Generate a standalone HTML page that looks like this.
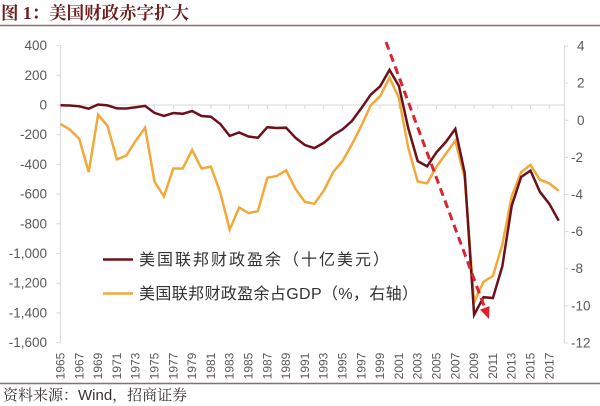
<!DOCTYPE html>
<html><head><meta charset="utf-8">
<style>
html,body{margin:0;padding:0;background:#fff;}
svg{display:block;}
</style></head>
<body>
<svg width="600" height="406" viewBox="0 0 600 406" xmlns="http://www.w3.org/2000/svg">
<rect width="600" height="406" fill="#fff"/>
<!-- title -->
<text x="1" y="19" font-family="'Liberation Serif','Noto Serif CJK SC',serif" font-weight="bold" font-size="17.5" fill="#6e1c1c">图 1：美国财政赤字扩大</text>
<line x1="0" y1="25.5" x2="600" y2="25.5" stroke="#8e6d66" stroke-width="1.5"/>

<!-- axes -->
<g stroke="#d9d9d9" stroke-width="1" fill="none">
<line x1="60.5" y1="45.6" x2="60.5" y2="342.6"/>
<line x1="564.5" y1="46" x2="564.5" y2="343"/>
<line x1="60.5" y1="105" x2="564.5" y2="105"/>
<!-- left ticks -->
<path d="M56.5 45.6H60.5M56.5 75.3H60.5M56.5 105H60.5M56.5 134.7H60.5M56.5 164.4H60.5M56.5 194.1H60.5M56.5 223.8H60.5M56.5 253.5H60.5M56.5 283.2H60.5M56.5 312.9H60.5M56.5 342.6H60.5"/>
<!-- right ticks -->
<path d="M564.5 46H568.5M564.5 83.1H568.5M564.5 120.3H568.5M564.5 157.4H568.5M564.5 194.5H568.5M564.5 231.6H568.5M564.5 268.7H568.5M564.5 305.9H568.5M564.5 343H568.5"/>
<!-- x ticks -->
<path d="M60.5 105V109M79.3 105V109M98.1 105V109M116.9 105V109M135.7 105V109M154.5 105V109M173.3 105V109M192.1 105V109M210.9 105V109M229.7 105V109M248.5 105V109M267.3 105V109M286.1 105V109M304.9 105V109M323.7 105V109M342.5 105V109M361.3 105V109M380.1 105V109M398.9 105V109M417.7 105V109M436.5 105V109M455.3 105V109M474.1 105V109M492.9 105V109M511.7 105V109M530.5 105V109M549.3 105V109"/>
</g>

<!-- left labels -->
<g font-family="'Liberation Sans',sans-serif" font-size="13.5" fill="#595959" text-anchor="end" dominant-baseline="central">
<text x="47" y="45.6">400</text>
<text x="47" y="75.3">200</text>
<text x="47" y="105">0</text>
<text x="47" y="134.7">-200</text>
<text x="47" y="164.4">-400</text>
<text x="47" y="194.1">-600</text>
<text x="47" y="223.8">-800</text>
<text x="47" y="253.5">-1,000</text>
<text x="47" y="283.2">-1,200</text>
<text x="47" y="312.9">-1,400</text>
<text x="47" y="342.6">-1,600</text>
</g>
<!-- right labels -->
<g font-family="'Liberation Sans',sans-serif" font-size="13.5" fill="#595959" dominant-baseline="central">
<text x="577" y="46">4</text>
<text x="577" y="83.1">2</text>
<text x="577" y="120.3">0</text>
<text x="571" y="157.4">-2</text>
<text x="571" y="194.5">-4</text>
<text x="571" y="231.6">-6</text>
<text x="571" y="268.7">-8</text>
<text x="571" y="305.9">-10</text>
<text x="571" y="343">-12</text>
</g>
<!-- year labels -->
<g font-family="'Liberation Sans',sans-serif" font-size="12" fill="#595959" text-anchor="middle" dominant-baseline="central">
<text transform="translate(60.5,366) rotate(-90)">1965</text>
<text transform="translate(79.3,366) rotate(-90)">1967</text>
<text transform="translate(98.1,366) rotate(-90)">1969</text>
<text transform="translate(116.9,366) rotate(-90)">1971</text>
<text transform="translate(135.7,366) rotate(-90)">1973</text>
<text transform="translate(154.5,366) rotate(-90)">1975</text>
<text transform="translate(173.3,366) rotate(-90)">1977</text>
<text transform="translate(192.1,366) rotate(-90)">1979</text>
<text transform="translate(210.9,366) rotate(-90)">1981</text>
<text transform="translate(229.7,366) rotate(-90)">1983</text>
<text transform="translate(248.5,366) rotate(-90)">1985</text>
<text transform="translate(267.3,366) rotate(-90)">1987</text>
<text transform="translate(286.1,366) rotate(-90)">1989</text>
<text transform="translate(304.9,366) rotate(-90)">1991</text>
<text transform="translate(323.7,366) rotate(-90)">1993</text>
<text transform="translate(342.5,366) rotate(-90)">1995</text>
<text transform="translate(361.3,366) rotate(-90)">1997</text>
<text transform="translate(380.1,366) rotate(-90)">1999</text>
<text transform="translate(398.9,366) rotate(-90)">2001</text>
<text transform="translate(417.7,366) rotate(-90)">2003</text>
<text transform="translate(436.5,366) rotate(-90)">2005</text>
<text transform="translate(455.3,366) rotate(-90)">2007</text>
<text transform="translate(474.1,366) rotate(-90)">2009</text>
<text transform="translate(492.9,366) rotate(-90)">2011</text>
<text transform="translate(511.7,366) rotate(-90)">2013</text>
<text transform="translate(530.5,366) rotate(-90)">2015</text>
<text transform="translate(549.3,366) rotate(-90)">2017</text>
</g>

<!-- orange series (% GDP, right axis) -->
<polyline fill="none" stroke="#f2a93b" stroke-width="2.5" stroke-linejoin="miter" points="60.5,124.0 69.9,129.6 79.3,138.9 88.7,172.2 98.1,114.7 107.5,125.9 116.9,159.3 126.3,155.5 135.7,140.7 145.1,127.7 154.5,181.5 163.9,196.4 173.3,168.5 182.7,168.5 192.1,150.0 201.5,168.5 210.9,166.7 220.3,192.6 229.7,229.7 239.1,207.5 248.5,213.1 257.9,211.2 267.3,177.8 276.7,176.0 286.1,170.4 295.5,189.0 304.9,201.9 314.3,203.8 323.7,190.8 333.1,172.2 342.5,161.1 351.9,144.4 361.3,125.9 370.7,105.5 380.1,96.2 389.5,77.6 398.9,98.0 408.3,148.1 417.7,181.5 427.1,183.4 436.5,166.7 445.9,153.7 455.3,140.7 464.7,177.8 474.1,302.1 483.5,281.7 492.9,276.1 502.3,244.6 511.7,196.4 521.1,172.2 530.5,164.8 539.9,179.7 549.3,183.4 558.7,190.8"/>

<!-- dark series (billions, left axis) -->
<polyline fill="none" stroke="#6d1119" stroke-width="2.5" stroke-linejoin="miter" points="60.5,105.2 69.9,105.5 79.3,106.3 88.7,108.7 98.1,104.5 107.5,105.4 116.9,108.4 126.3,108.5 135.7,107.2 145.1,105.9 154.5,112.9 163.9,115.9 173.3,113.0 182.7,113.8 192.1,111.0 201.5,116.0 210.9,116.7 220.3,124.0 229.7,135.9 239.1,132.5 248.5,136.5 257.9,137.8 267.3,127.2 276.7,128.0 286.1,127.7 295.5,137.8 304.9,145.0 314.3,148.1 323.7,142.9 333.1,135.2 342.5,129.4 351.9,121.0 361.3,108.3 370.7,94.7 380.1,86.3 389.5,69.9 398.9,86.0 408.3,128.4 417.7,161.1 427.1,166.3 436.5,152.3 445.9,141.9 455.3,128.9 464.7,173.1 474.1,314.8 483.5,297.2 492.9,298.0 502.3,266.4 511.7,205.9 521.1,177.0 530.5,170.6 539.9,191.8 549.3,203.8 558.7,220.7"/>

<!-- dashed arrow -->
<line x1="386" y1="42" x2="485" y2="308.5" stroke="#d92630" stroke-width="3" stroke-dasharray="8,5"/>
<polygon points="489,319 489.6,306.1 480.0,309.6" fill="#e0202a"/>

<!-- legend -->
<line x1="103" y1="259.5" x2="133" y2="259.5" stroke="#6d1119" stroke-width="2.5"/>
<text x="139" y="265" font-family="'Liberation Sans','Noto Sans CJK SC',sans-serif" font-size="16" fill="#333" textLength="250" lengthAdjust="spacing">美国联邦财政盈余（十亿美元）</text>
<line x1="103" y1="293.5" x2="133" y2="293.5" stroke="#f2a93b" stroke-width="2.5"/>
<text x="139" y="299" font-family="'Liberation Sans','Noto Sans CJK SC',sans-serif" font-size="16" fill="#333" textLength="279" lengthAdjust="spacing">美国联邦财政盈余占GDP（%，右轴）</text>

<!-- bottom -->
<line x1="0" y1="383.5" x2="600" y2="383.5" stroke="#8e6d66" stroke-width="1.5"/>
<text x="3" y="400" font-family="'Liberation Sans','Noto Serif CJK SC',serif" font-size="15" fill="#333">资料来源：Wind，招商证券</text>
</svg>
</body></html>
